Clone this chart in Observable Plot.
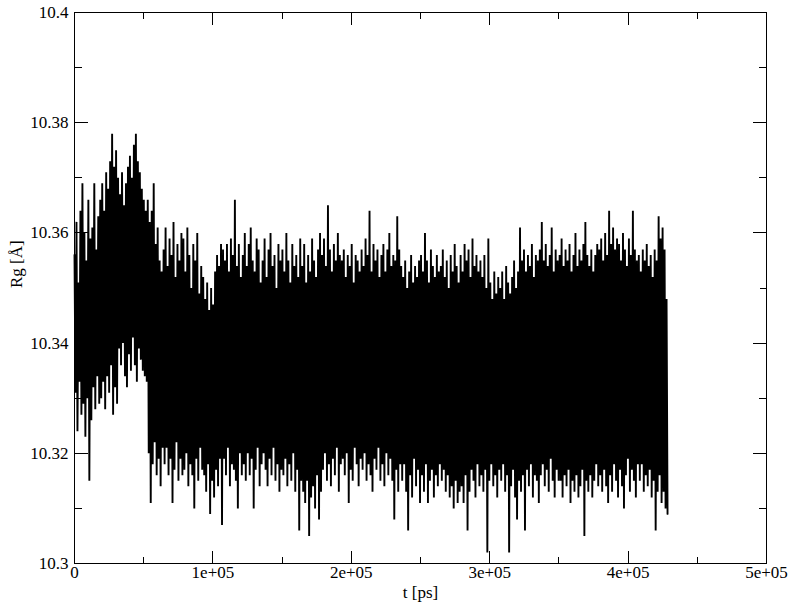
<!DOCTYPE html>
<html><head><meta charset="utf-8">
<script src="https://cdn.jsdelivr.net/npm/d3@7"></script>
<script src="https://cdn.jsdelivr.net/npm/@observablehq/plot@0.6"></script>
<style>html,body{margin:0;padding:0;background:#fff;}</style>
</head><body><div id="chart"></div>
<script>
const xTicks = [0, 100000, 200000, 300000, 400000, 500000];
const xTickLabels = ["0", "1e+05", "2e+05", "3e+05", "4e+05", "5e+05"];
const xMinorTicks = [50000, 150000, 250000, 350000, 450000];
const yTicks = [10.3, 10.32, 10.34, 10.36, 10.38, 10.4];
const yTickLabels = ["10.3", "10.32", "10.34", "10.36", "10.38", "10.4"];
const yMinorTicks = [10.31, 10.33, 10.35, 10.37, 10.39];
const xLabel = "t [ps]";
const yLabel = "Rg [Å]";
const tStart = 0, tEnd = 428500;

// local maxima of the trace (left to right)
const peaks = [
10.356,10.362,10.351,10.364,10.369,10.360,10.355,10.366,10.359,10.361,10.369,10.357,10.363,
10.366,10.369,10.364,10.371,10.368,10.373,10.378,10.372,10.375,10.370,10.367,10.371,10.365,10.369,10.372,10.374,10.370,10.376,10.378,10.373,10.371,10.368,10.366,10.364,
10.366,10.362,10.364,10.369,10.358,10.361,10.355,10.353,
10.357,10.361,10.354,10.359,10.356,10.362,10.352,10.358,10.355,10.360,
10.359,10.353,10.361,10.356,10.350,10.358,10.355,10.360,10.349,10.354,
10.352,10.348,10.351,10.346,10.350,10.347,10.353,10.356,10.354,10.358,
10.357,10.355,10.358,10.353,10.359,10.356,10.366,10.354,10.358,10.352,
10.356,10.360,10.354,10.358,10.361,10.355,10.353,10.359,10.357,10.351,
10.355,10.359,10.352,10.357,10.360,10.354,10.356,10.350,10.358,10.355,
10.357,10.353,10.360,10.355,10.351,10.358,10.354,10.356,10.352,10.359,
10.354,10.358,10.351,10.356,10.353,10.359,10.355,10.352,10.357,10.360,
10.356,10.359,10.354,10.365,10.357,10.353,10.358,10.355,10.360,10.356,
10.355,10.357,10.352,10.356,10.354,10.358,10.351,10.356,10.355,10.353,
10.357,10.354,10.359,10.356,10.364,10.353,10.358,10.355,10.357,10.352,
10.356,10.358,10.353,10.357,10.360,10.354,10.356,10.355,10.363,10.357,
10.354,10.352,10.355,10.350,10.353,10.356,10.351,10.354,10.352,10.355,
10.356,10.353,10.360,10.355,10.351,10.357,10.354,10.352,10.356,10.353,
10.354,10.357,10.352,10.355,10.350,10.356,10.353,10.358,10.354,10.351,
10.356,10.353,10.358,10.355,10.357,10.352,10.359,10.354,10.356,10.353,
10.355,10.352,10.356,10.350,10.359,10.351,10.348,10.353,10.349,10.352,
10.350,10.353,10.348,10.354,10.351,10.349,10.352,10.355,10.350,10.353,
10.361,10.355,10.357,10.353,10.356,10.354,10.358,10.352,10.356,10.355,
10.357,10.362,10.355,10.358,10.354,10.356,10.361,10.353,10.357,10.355,
10.356,10.359,10.354,10.357,10.355,10.358,10.353,10.356,10.360,10.354,
10.357,10.355,10.358,10.362,10.356,10.354,10.357,10.353,10.356,10.358,
10.357,10.359,10.355,10.360,10.356,10.364,10.358,10.361,10.357,10.359,
10.358,10.355,10.360,10.357,10.354,10.359,10.356,10.364,10.357,10.355,
10.356,10.353,10.357,10.355,10.358,10.354,10.356,10.352,10.357,10.355,10.363,10.359,10.361,10.357,10.348
];
// local minima of the trace (left to right)
const troughs = [
10.331,10.324,10.333,10.327,10.329,10.323,10.330,10.315,10.326,10.332,10.328,10.334,10.329,
10.330,10.333,10.328,10.334,10.331,10.336,10.327,10.332,10.329,10.339,10.336,10.340,10.334,10.332,10.338,10.335,10.341,10.336,10.333,10.339,10.337,10.335,10.334,10.333,
10.320,10.311,10.318,10.322,10.316,10.319,10.314,10.321,
10.318,10.321,10.316,10.319,10.311,10.317,10.322,10.315,10.319,10.316,
10.317,10.320,10.314,10.318,10.316,10.310,10.319,10.315,10.321,10.317,
10.316,10.313,10.318,10.309,10.315,10.312,10.317,10.314,10.319,10.307,
10.319,10.316,10.321,10.314,10.318,10.317,10.315,10.310,10.320,10.316,
10.318,10.315,10.320,10.316,10.319,10.310,10.317,10.321,10.314,10.318,
10.320,10.317,10.314,10.319,10.316,10.321,10.315,10.318,10.313,10.317,
10.316,10.319,10.314,10.318,10.315,10.320,10.313,10.317,10.306,10.315,
10.313,10.311,10.315,10.305,10.312,10.314,10.310,10.316,10.308,10.313,
10.317,10.320,10.315,10.318,10.314,10.319,10.316,10.321,10.313,10.318,
10.319,10.316,10.320,10.311,10.317,10.315,10.321,10.318,10.314,10.319,
10.317,10.320,10.315,10.318,10.316,10.313,10.319,10.317,10.321,10.315,
10.318,10.314,10.320,10.316,10.319,10.315,10.308,10.317,10.313,10.318,
10.315,10.318,10.313,10.306,10.316,10.312,10.319,10.314,10.317,10.311,
10.316,10.313,10.318,10.311,10.315,10.317,10.312,10.316,10.314,10.318,
10.315,10.317,10.313,10.316,10.312,10.314,10.310,10.315,10.311,10.313,
10.314,10.311,10.316,10.306,10.313,10.317,10.315,10.312,10.318,10.314,
10.316,10.313,10.317,10.302,10.315,10.318,10.314,10.316,10.312,10.317,
10.315,10.318,10.313,10.316,10.302,10.314,10.317,10.312,10.308,10.315,
10.313,10.316,10.306,10.317,10.314,10.318,10.312,10.316,10.315,10.311,
10.316,10.318,10.314,10.317,10.313,10.319,10.315,10.312,10.317,10.315,
10.315,10.312,10.316,10.314,10.317,10.311,10.315,10.313,10.316,10.312,
10.314,10.317,10.305,10.315,10.313,10.316,10.312,10.315,10.318,10.314,
10.316,10.313,10.317,10.314,10.311,10.316,10.313,10.318,10.315,10.312,
10.317,10.314,10.310,10.316,10.319,10.313,10.317,10.315,10.312,10.318,
10.315,10.318,10.313,10.316,10.314,10.317,10.312,10.315,10.306,10.313,10.316,10.311,10.313,10.310,10.309
];

const rg = peaks.flatMap((p, i) => [p, troughs[i]]);
const series = rg.map((v, i) => ({t: tStart + i * (tEnd - tStart) / (rg.length - 1), rg: v}));

const FONT = "'Liberation Serif', 'Times New Roman', serif";
const FS = 17;
const tickShape = {draw(ctx, l) { ctx.moveTo(0, 0); ctx.lineTo(0, -l); }};
const tickOpts = {anchor: "start", shape: tickShape, stroke: "black", strokeWidth: 1, shapeRendering: "crispEdges"};

const chart = Plot.plot({
  width: 792, height: 612,
  marginLeft: 74, marginRight: 26, marginTop: 12, marginBottom: 49,
  x: {domain: [0, 500000], axis: null},
  y: {domain: [10.3, 10.4], axis: null},
  style: {background: "white", fontFamily: FONT},
  marks: [
    Plot.line(series, {x: "t", y: "rg", stroke: "black", strokeWidth: 1.9, strokeLinejoin: "bevel"}),
    Plot.frame({stroke: "black", strokeWidth: 1, shapeRendering: "crispEdges"}),
    Plot.vector(xTicks, {x: d => d, frameAnchor: "bottom", length: 12, rotate: 0, ...tickOpts}),
    Plot.vector(xMinorTicks, {x: d => d, frameAnchor: "bottom", length: 6, rotate: 0, ...tickOpts}),
    Plot.vector(xTicks, {x: d => d, frameAnchor: "top", length: 12, rotate: 180, ...tickOpts}),
    Plot.vector(xMinorTicks, {x: d => d, frameAnchor: "top", length: 6, rotate: 180, ...tickOpts}),
    Plot.vector(yTicks, {y: d => d, frameAnchor: "left", length: 13, rotate: 90, ...tickOpts}),
    Plot.vector(yMinorTicks, {y: d => d, frameAnchor: "left", length: 7, rotate: 90, ...tickOpts}),
    Plot.vector(yTicks, {y: d => d, frameAnchor: "right", length: 13, rotate: -90, ...tickOpts}),
    Plot.vector(yMinorTicks, {y: d => d, frameAnchor: "right", length: 7, rotate: -90, ...tickOpts}),
    Plot.text(xTicks, {x: d => d, frameAnchor: "bottom", dy: 14, text: (d, i) => xTickLabels[i], fontSize: FS, fontFamily: FONT, fill: "black"}),
    Plot.text(yTicks, {y: d => d, frameAnchor: "left", dx: -6, textAnchor: "end", text: (d, i) => yTickLabels[i], fontSize: FS, fontFamily: FONT, fill: "black"}),
    Plot.text([xLabel], {frameAnchor: "bottom", dy: 34, text: d => d, fontSize: FS, fontFamily: FONT, fill: "black"}),
    Plot.text([yLabel], {frameAnchor: "left", dx: -58, rotate: -90, text: d => d, fontSize: FS, fontFamily: FONT, fill: "black"})
  ]
});
document.getElementById("chart").appendChild(chart);
</script>
</body></html>
